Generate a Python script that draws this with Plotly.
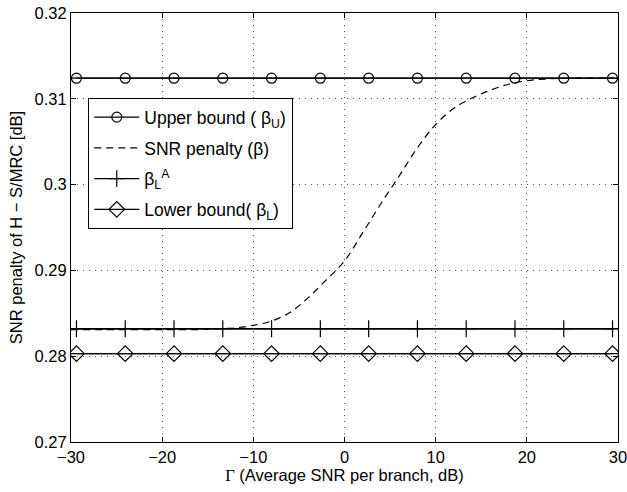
import plotly.graph_objects as go

# ---- data ----
x_range = [-30, 30]
gamma_markers = [-29.4, -24.05, -18.7, -13.35, -8.0, -2.65, 2.65, 8.0, 13.35, 18.7, 24.05, 29.4]
upper_bound = 0.3124
beta_LA = 0.2832
lower_bound = 0.2803
gamma_curve = [-30, -25, -20, -16, -14, -12, -10, -8, -6, -4, -2, 0, 2, 4, 6,
               8, 10, 12, 14, 16, 18, 20, 22, 25, 30]
snr_penalty = [0.2831, 0.2831, 0.2831, 0.2831, 0.2832, 0.2833, 0.2836, 0.2841,
               0.2851, 0.2868, 0.2889, 0.2911, 0.2944, 0.2978, 0.3010, 0.3043,
               0.3070, 0.3089, 0.3101, 0.3110, 0.3117, 0.3121, 0.3123, 0.3124, 0.3124]
x_ticks = [-30, -20, -10, 0, 10, 20, 30]
y_ticks = [0.27, 0.28, 0.29, 0.30, 0.31, 0.32]

FONT = "Liberation Sans, Arial, Helvetica, sans-serif"
FS = 16.5
BLACK = "#000000"

fig = go.Figure()

def hline(val, symbol, size, name, group):
    # full-width line (no legend)
    fig.add_trace(go.Scatter(x=x_range, y=[val] * len(x_range), mode="lines",
                             line=dict(color=BLACK, width=1.3), showlegend=False,
                             hoverinfo="skip", legendgroup=group))
    # markers with connecting line (legend entry)
    fig.add_trace(go.Scatter(x=gamma_markers, y=[val] * len(gamma_markers),
                             mode="lines+markers", name=name, legendgroup=group,
                             line=dict(color=BLACK, width=1.3),
                             marker=dict(symbol=symbol, size=size, color=BLACK,
                                         line=dict(color=BLACK, width=1.2))))

hline(upper_bound, "circle-open", 10, "Upper bound ( β<sub>U</sub>)", "g1")

fig.add_trace(go.Scatter(x=gamma_curve, y=snr_penalty, mode="lines",
                         name="SNR penalty (β)", legendgroup="g2",
                         line=dict(color=BLACK, width=1.2, dash="7px,5px", shape="spline")))

hline(beta_LA, "cross-thin-open", 12, "β<sub>L</sub><sup>A</sup>", "g3")
hline(lower_bound, "diamond-open", 12, "Lower bound( β<sub>L</sub>)", "g4")

axis_common = dict(
    showline=True, linecolor=BLACK, linewidth=1, mirror="ticks",
    ticks="inside", ticklen=5, tickcolor=BLACK, tickwidth=1,
    showgrid=True, gridcolor="#555555", griddash="1px,5px", gridwidth=1,
    zeroline=False, automargin=False, ticklabeloverflow="allow",
    tickfont=dict(family=FONT, size=FS, color=BLACK),
)

fig.update_layout(
    width=627, height=492,
    margin=dict(l=71, r=9, t=13, b=50),
    paper_bgcolor="white", plot_bgcolor="white",
    font=dict(family=FONT, size=FS, color=BLACK),
    xaxis=dict(range=x_range, tickvals=x_ticks,
               title=dict(text='<span style="font-family:Liberation Serif, Times New Roman, serif">Γ</span> (Average SNR per branch, dB)',
                          font=dict(family=FONT, size=FS), standoff=2),
               **axis_common),
    yaxis=dict(range=[0.27, 0.32], tickvals=y_ticks,
               title=dict(text="SNR penalty of H − S/MRC [dB]",
                          font=dict(family=FONT, size=FS), standoff=7),
               **axis_common),
    legend=dict(x=0.031, y=0.802, xanchor="left", yanchor="top",
                bgcolor="white", bordercolor=BLACK, borderwidth=1.3,
                font=dict(family=FONT, size=17.5, color=BLACK),
                traceorder="grouped", tracegroupgap=5, itemwidth=45),
    showlegend=True,
)

# remove the default 8px page margin so the figure fills the window exactly
fig.write_html("out.html", config={"displayModeBar": False},
               post_script="document.body.style.margin='0';")
